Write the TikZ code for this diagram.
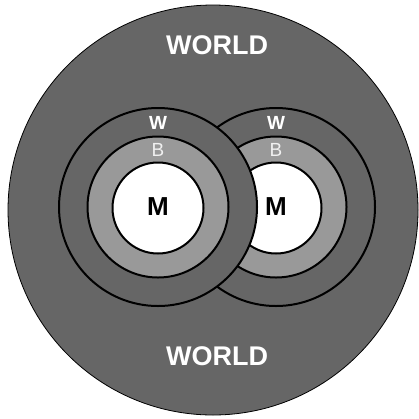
\documentclass[tikz,border=0pt]{standalone}
\usepackage{fontspec}
\setmainfont{Liberation Sans}
\usepackage{tikz}
\usetikzlibrary{positioning}
\definecolor{worldg}{RGB}{102,102,102}
\definecolor{bodyg}{RGB}{153,153,153}
\definecolor{labelb}{RGB}{240,240,240}

\begin{document}
\begin{tikzpicture}[
      x=1pt,y=-1pt,
      world/.style={circle,draw=black,line width=0.8pt,fill=worldg,minimum size=410pt,inner sep=0pt},
      wring/.style={circle,draw=black,line width=2pt,fill=worldg,minimum size=198pt,inner sep=0pt},
      bring/.style={circle,draw=black,line width=2pt,fill=bodyg,minimum size=141pt,inner sep=0pt},
      mcore/.style={circle,draw=black,line width=2pt,fill=white,minimum size=91pt,inner sep=0pt},
      big/.style={font=\fontsize{27}{30}\selectfont\bfseries,text=white,inner sep=0pt},
      wlab/.style={font=\fontsize{19}{21}\selectfont\bfseries,text=white,inner sep=0pt},
      blab/.style={font=\fontsize{19}{21}\selectfont,text=labelb,inner sep=0pt},
      mlab/.style={font=\fontsize{26}{28}\selectfont\bfseries,text=black,inner sep=0pt},
    ]
    \useasboundingbox (0,0) rectangle (419,418);
    \node[world] (world) at (213,210) {};

    % right self
    \node[wring] (wright) at (276,207) {};
    \node[bring] (bright) at (276,207) {};
    \node[mcore] (mright) at (276,208) {};

    % left self, on top
    \node[wring] (wleft) at (158,207) {};
    \node[bring] (bleft) at (158,207) {};
    \node[mcore] (mleft) at (158,208) {};

    \node[big] (wtop) at (217,45) {WORLD};
    \node[big] (wbot) at (217,356) {WORLD};

    \node[wlab] (wl) at (158,123) {W};
    \node[blab] (bl) at (158,150) {B};
    \node[mlab] (ml) at (158,207) {M};
    \node[wlab] (wr) at (276,123) {W};
    \node[blab] (br) at (276,150) {B};
    \node[mlab] (mr) at (276,207) {M};
  \end{tikzpicture}
\end{document}
